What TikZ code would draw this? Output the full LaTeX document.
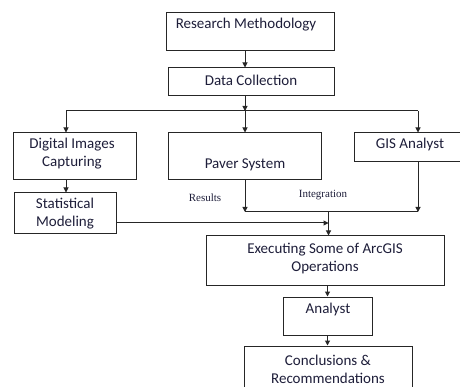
\documentclass[tikz,border=0pt]{standalone}
\usepackage{fontspec}
\setmainfont{Carlito}
\newfontfamily\lblfont{Liberation Serif}
\usetikzlibrary{arrows.meta,calc}
\definecolor{ln}{HTML}{262626}
\definecolor{tx}{HTML}{1E1E3A}
\tikzset{
  box/.style={draw=ln, line width=1pt, inner sep=0pt, fill=white},
  txt/.style={text=tx, font=\fontsize{15}{18}\selectfont, align=center, inner sep=0pt},
  lbl/.style={text=tx, font=\lblfont\fontsize{11}{13}\selectfont, inner sep=0pt},
  arr/.style={draw=ln, line width=1pt, -{Triangle[length=5pt,width=5pt]}},
  ln/.style={draw=ln, line width=1pt}
}
\begin{document}
\begin{tikzpicture}[x=1pt,y=-1pt]
\useasboundingbox (0,0) rectangle (460,387);
% boxes
\node[box, minimum width=168pt, minimum height=38pt] (rm) at (250,32) {};
\node[box, minimum width=166pt, minimum height=28pt] (dc) at (251,82) {};
\node[box, minimum width=123pt, minimum height=47pt] (dig) at (74.5,156.5) {};
\node[box, minimum width=153pt, minimum height=47pt] (pav) at (244.5,156.5) {};
\node[box, minimum width=120pt, minimum height=29pt] (gis) at (414,147.5) {};
\node[box, minimum width=102pt, minimum height=41pt] (stat) at (65,213.5) {};
\node[box, minimum width=238pt, minimum height=49pt] (exec) at (325,260.5) {};
\node[box, minimum width=89pt, minimum height=38pt] (an) at (327.5,316) {};
\node[box, minimum width=168pt, minimum height=54pt] (con) at (328,373) {};
% texts
\node[txt] (trm) at (246,25) {Research Methodology};
\node[txt] (tdc) at (251,80) {Data Collection};
\node[txt] (tdig) at (72,154) {Digital Images\\Capturing};
\node[txt] (tpav) at (245,165) {Paver System};
\node[txt] (tgis) at (410,145) {GIS Analyst};
\node[txt] (tstat) at (65,214) {Statistical\\Modeling};
\node[txt] (texec) at (325,259) {Executing Some of ArcGIS\\Operations};
\node[txt] (tan) at (328,309) {Analyst};
\node[txt] (tcon) at (328,369) {Conclusions \&\\Recommendations};
\node[lbl] (lres) at (205,198) {Results};
\node[lbl] (lint) at (323,195) {Integration};
% junctions
\coordinate (j1) at (245,111);
\coordinate (jl) at (66,111);
\coordinate (jr) at (418,111);
\coordinate (m1) at (245,212);
\coordinate (m2) at (418,212);
\coordinate (m3) at (328.5,212);
\coordinate (sE) at (116,223);
% connectors
\draw[arr] (rm.south -| j1) -- (dc.north -| j1);
\draw[arr] (dc.south -| j1) -- (j1);
\draw[ln] (jl) -- (jr);
\draw[arr] (jl) -- (jl |- dig.north);
\draw[arr] (j1) -- (j1 |- pav.north);
\draw[arr] (jr) -- (jr |- gis.north);
\draw[arr] (jl |- dig.south) -- (jl |- stat.north);
\draw[arr] (m1 |- pav.south) -- (m1);
\draw[arr] (m2 |- gis.south) -- (m2);
\draw[ln] (m1) -- (m2);
\draw[arr] (m3) -- (m3 |- exec.north);
\draw[arr] (sE) -- (sE -| m3);
\draw[arr] (exec.south -| an.north) -- (an.north);
\draw[arr] (an.south) -- (an.south |- con.north);
\end{tikzpicture}
\end{document}
